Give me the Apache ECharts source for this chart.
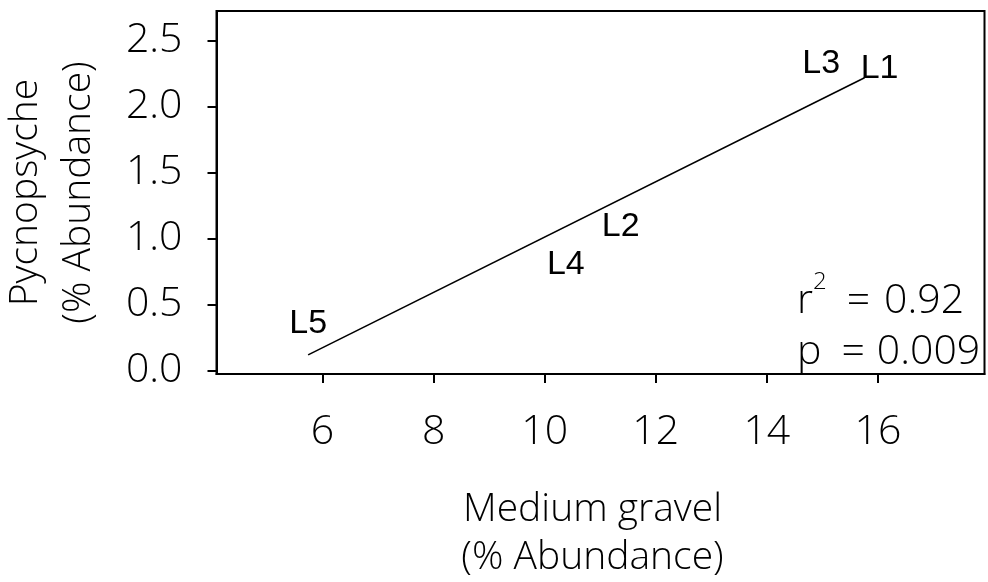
<!DOCTYPE html>
<html>
<head>
<meta charset="utf-8">
<script src="https://cdn.jsdelivr.net/npm/echarts@6/dist/echarts.min.js"></script>
<style>html,body{margin:0;padding:0;background:#fff}#c{width:988px;height:582px}</style>
</head>
<body>
<div id="c"></div>
<script>
// Site labels (positions)
const siteNames = ['L1', 'L2', 'L3', 'L4', 'L5'];
const siteX = [16.03, 11.37, 14.98, 10.38, 5.74];
const siteY = [2.29, 1.09, 2.33, 0.80, 0.36];
// Regression line end points
const fitX = [5.74, 15.76];
const fitY = [0.12, 2.22];
// Axis ticks
const xTicks = [6, 8, 10, 12, 14, 16];
const yTicks = [0, 0.5, 1.0, 1.5, 2.0, 2.5];
const xTitle = 'Medium gravel\n(% Abundance)';
const yTitle = 'Pycnopsyche\n(% Abundance)';
const statR2 = '0.92';
const statP = '0.009';

const chart = echarts.init(document.getElementById('c'));
const tickFont = 'Open Sans';
const fw = 300;
chart.setOption({
  animation: false,
  grid: { left: 216.5, top: 11, right: 3.5, bottom: 208, show: true, borderColor: '#000', borderWidth: 2, containLabel: false, outerBoundsMode: 'none' },
  xAxis: {
    type: 'value', min: 4.09, max: 17.92,
    axisLine: { show: true, onZero: false, lineStyle: { color: '#000', width: 2 } },
    axisTick: { show: true, inside: false, length: 9, lineStyle: { color: '#000', width: 2 }, customValues: xTicks },
    axisLabel: { color: '#000', fontFamily: tickFont, fontWeight: fw, fontSize: 41, margin: 38, customValues: xTicks, formatter: v => String(v) },
    splitLine: { show: false },
    name: xTitle, nameLocation: 'middle', nameGap: 112,
    nameTextStyle: { color: '#000', fontFamily: tickFont, fontWeight: fw, fontSize: 39, lineHeight: 48, padding: [0, 16, 0, 0] }
  },
  yAxis: {
    type: 'value', min: -0.025, max: 2.725,
    axisLine: { show: true, onZero: false, lineStyle: { color: '#000', width: 2 } },
    axisTick: { show: true, inside: false, length: 9, lineStyle: { color: '#000', width: 2 }, customValues: yTicks },
    axisLabel: { color: '#000', fontFamily: tickFont, fontWeight: fw, fontSize: 41, margin: 34, customValues: yTicks, formatter: v => v.toFixed(1), padding: [8, 0, 0, 0] },
    splitLine: { show: false },
    name: yTitle, nameLocation: 'middle', nameGap: 111, nameRotate: 90,
    nameTextStyle: { color: '#000', fontFamily: tickFont, fontWeight: fw, fontSize: 39, lineHeight: 53 }
  },
  series: [
    {
      type: 'line', data: fitX.map((x, i) => [x, fitY[i]]),
      showSymbol: false, symbol: 'none',
      lineStyle: { color: '#000', width: 1.6 }, silent: true
    },
    {
      type: 'scatter', symbolSize: 0,
      itemStyle: { color: '#000', opacity: 1 },
      data: siteNames.map((n, i) => ({ name: n, value: [siteX[i], siteY[i]] })),
      label: { show: true, position: 'inside', formatter: p => p.name, color: '#000', opacity: 1, textBorderWidth: 0, fontFamily: 'Liberation Sans', fontSize: 34 }
    }
  ],
  graphic: [
    {
      type: 'text', left: 797, top: 270.5,
      style: {
        text: '{t|r}{s|2}{e|=}{t|' + statR2 + '}\n{t|p}{f|=}{t|' + statP + '}',
        rich: {
          t: { fontFamily: tickFont, fontWeight: fw, fontSize: 41, lineHeight: 51, fill: '#000', verticalAlign: 'bottom' },
          e: { fontFamily: tickFont, fontWeight: fw, fontSize: 41, lineHeight: 51, fill: '#000', verticalAlign: 'bottom', padding: [0, 14, 0, 20] },
          f: { fontFamily: tickFont, fontWeight: fw, fontSize: 41, lineHeight: 51, fill: '#000', verticalAlign: 'bottom', padding: [0, 12, 0, 20] },
          s: { fontFamily: tickFont, fontWeight: fw, fontSize: 24, lineHeight: 51, fill: '#000', verticalAlign: 'top' }
        }
      }
    }
  ]
});
</script>
</body>
</html>
